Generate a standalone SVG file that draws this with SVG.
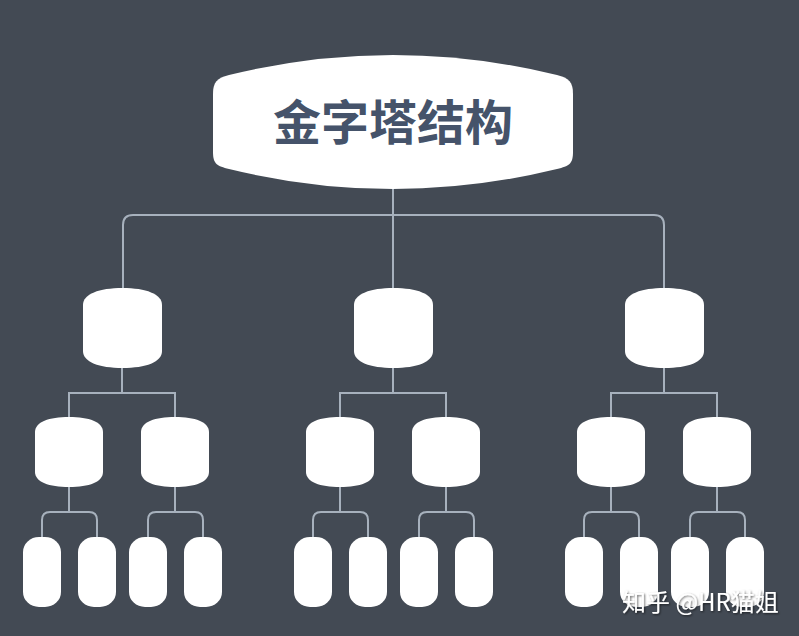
<svg xmlns="http://www.w3.org/2000/svg" width="799" height="636" viewBox="0 0 799 636">
  <defs>
    <style>
      .node { fill: #ffffff; }
      .conn { fill: none; stroke: #a7b1bd; stroke-width: 2; }
      .title { font-family: "Noto Sans CJK SC", "Noto Sans", sans-serif; font-weight: bold; font-size: 48px; fill: #45536a; }
      .wm { font-family: "Noto Sans CJK SC", "Noto Sans", sans-serif; font-size: 24px; fill: #ffffff; }
    </style>
    <filter id="sh" x="-10%" y="-30%" width="130%" height="160%">
      <feDropShadow dx="1" dy="1" stdDeviation="1" flood-color="#000" flood-opacity="0.6"/>
    </filter>
    <path id="l1" d="M0,17 C0,6 16,0 39.5,0 C63,0 79,6 79,17 L79,63 C79,74 63,80 39.5,80 C16,80 0,74 0,63 Z"/>
    <path id="l2" d="M0,15 C0,5 14,0 34,0 C54,0 68,5 68,15 L68,55 C68,65 54,70 34,70 C14,70 0,65 0,55 Z"/>
    <rect id="leaf" x="0" y="0" width="38" height="70" rx="16" ry="15"/>
  </defs>
  <rect width="799" height="636" fill="#434a54"/>

  <g id="connectors" class="conn">
    <path d="M393,188 V288"/>
    <path d="M123,288 V225 Q123,215 133,215 H654 Q664,215 664,225 V288"/>
    <g id="sub-left">
      <path d="M122,368 V393 M69,417 V393 H175 V417"/>
      <path d="M69,487 V512 M42,537 V520 Q42,512 50,512 H89 Q97,512 97,520 V537"/>
      <path d="M175,487 V512 M148,537 V520 Q148,512 156,512 H195 Q203,512 203,520 V537"/>
    </g>
    <use href="#sub-left" transform="translate(271,0)"/>
    <use href="#sub-left" transform="translate(542,0)"/>
  </g>

  <g id="root">
    <path class="node" d="M213,94 C213,82 217,78 229,75 Q393,35 557,75 C569,78 573,82 573,94 L573,152 C573,164 569,166 557,169 Q393,209 229,169 C217,166 213,164 213,152 Z"/>
    <text class="title" x="393" y="140" text-anchor="middle">金字塔结构</text>
  </g>

  <g id="group-left">
    <g id="n1"><use href="#l1" class="node" x="83" y="288"/></g>
    <g id="n1a"><use href="#l2" class="node" x="35" y="417"/></g>
    <g id="n1b"><use href="#l2" class="node" x="141" y="417"/></g>
    <g id="n1a1"><use href="#leaf" class="node" x="23" y="537"/></g>
    <g id="n1a2"><use href="#leaf" class="node" x="78" y="537"/></g>
    <g id="n1b1"><use href="#leaf" class="node" x="129" y="537"/></g>
    <g id="n1b2"><use href="#leaf" class="node" x="184" y="537"/></g>
  </g>
  <g id="group-middle">
    <g id="n2"><use href="#l1" class="node" x="354" y="288"/></g>
    <g id="n2a"><use href="#l2" class="node" x="306" y="417"/></g>
    <g id="n2b"><use href="#l2" class="node" x="412" y="417"/></g>
    <g id="n2a1"><use href="#leaf" class="node" x="294" y="537"/></g>
    <g id="n2a2"><use href="#leaf" class="node" x="349" y="537"/></g>
    <g id="n2b1"><use href="#leaf" class="node" x="400" y="537"/></g>
    <g id="n2b2"><use href="#leaf" class="node" x="455" y="537"/></g>
  </g>
  <g id="group-right">
    <g id="n3"><use href="#l1" class="node" x="625" y="288"/></g>
    <g id="n3a"><use href="#l2" class="node" x="577" y="417"/></g>
    <g id="n3b"><use href="#l2" class="node" x="683" y="417"/></g>
    <g id="n3a1"><use href="#leaf" class="node" x="565" y="537"/></g>
    <g id="n3a2"><use href="#leaf" class="node" x="620" y="537"/></g>
    <g id="n3b1"><use href="#leaf" class="node" x="671" y="537"/></g>
    <g id="n3b2"><use href="#leaf" class="node" x="726" y="537"/></g>
  </g>

  <text class="wm" x="622" y="611" filter="url(#sh)">知乎 @HR猫姐</text>
</svg>
